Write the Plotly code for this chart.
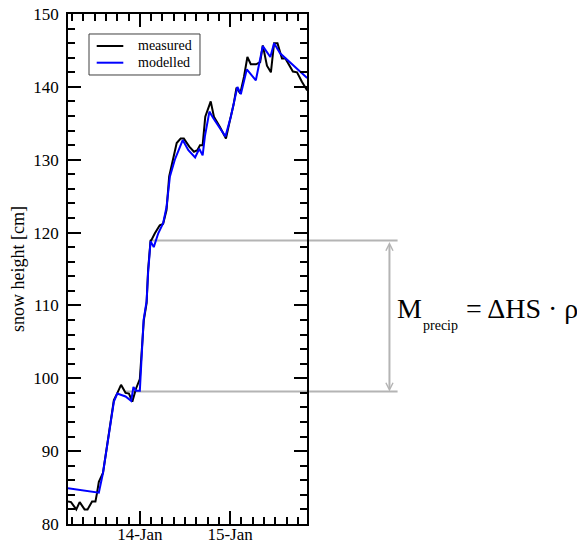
import plotly.graph_objects as go

# ---- data ----
measured_time = [
    "2014-01-13 04:54", "2014-01-13 05:42", "2014-01-13 07:06", "2014-01-13 08:00",
    "2014-01-13 09:18", "2014-01-13 10:06", "2014-01-13 11:18", "2014-01-13 12:12",
    "2014-01-13 12:36", "2014-01-13 13:06", "2014-01-13 14:12", "2014-01-13 15:06",
    "2014-01-13 16:12", "2014-01-13 17:06", "2014-01-13 17:57", "2014-01-13 19:00",
    "2014-01-13 20:12", "2014-01-13 21:06", "2014-01-13 22:00", "2014-01-13 23:00",
    "2014-01-14 00:00", "2014-01-14 00:27", "2014-01-14 01:04", "2014-01-14 01:48",
    "2014-01-14 02:12", "2014-01-14 02:51", "2014-01-14 03:06", "2014-01-14 04:00",
    "2014-01-14 04:54", "2014-01-14 05:18", "2014-01-14 06:12", "2014-01-14 07:06",
    "2014-01-14 07:48", "2014-01-14 08:54", "2014-01-14 09:48", "2014-01-14 10:51",
    "2014-01-14 11:42", "2014-01-14 13:09", "2014-01-14 14:24", "2014-01-14 15:18",
    "2014-01-14 16:00", "2014-01-14 16:42", "2014-01-14 17:24", "2014-01-14 18:51",
    "2014-01-14 19:42", "2014-01-14 21:18", "2014-01-14 22:54", "2014-01-15 00:00",
    "2014-01-15 00:54", "2014-01-15 01:42", "2014-01-15 02:42", "2014-01-15 03:42",
    "2014-01-15 04:36", "2014-01-15 05:30", "2014-01-15 06:54", "2014-01-15 08:00",
    "2014-01-15 08:42", "2014-01-15 09:48", "2014-01-15 10:51", "2014-01-15 11:42",
    "2014-01-15 12:36", "2014-01-15 13:48", "2014-01-15 14:42", "2014-01-15 16:42",
    "2014-01-15 17:48", "2014-01-15 19:06", "2014-01-15 20:30",
]
measured_hs = [
    83.1, 83.0, 82.0, 83.0, 82.0, 82.0, 83.1, 83.1,
    84.2, 85.8, 87.0, 90.2, 93.8, 97.0, 97.9, 99.1,
    98.0, 97.9, 96.8, 98.6, 99.9, 103.4, 108.0, 110.3,
    114.9, 118.9, 119.0, 119.9, 120.8, 121.0, 121.2, 123.1,
    127.7, 130.4, 132.3, 132.9, 132.9, 131.8, 131.1, 131.3,
    132.0, 132.0, 135.9, 138.0, 135.9, 134.5, 132.9, 135.5,
    137.5, 139.9, 139.1, 141.4, 144.1, 143.1, 143.1, 143.4,
    145.7, 142.9, 142.0, 146.0, 146.0, 143.9, 143.9, 142.1,
    142.0, 140.7, 139.5,
]

modelled_time = [
    "2014-01-13 04:54", "2014-01-13 13:06", "2014-01-13 14:12", "2014-01-13 15:06",
    "2014-01-13 16:12", "2014-01-13 17:06", "2014-01-13 18:00", "2014-01-13 20:12",
    "2014-01-13 21:42", "2014-01-13 22:18", "2014-01-13 23:00", "2014-01-14 00:00",
    "2014-01-14 01:00", "2014-01-14 01:48", "2014-01-14 02:12", "2014-01-14 02:51",
    "2014-01-14 03:42", "2014-01-14 04:54", "2014-01-14 06:12", "2014-01-14 07:06",
    "2014-01-14 08:00", "2014-01-14 09:18", "2014-01-14 10:42", "2014-01-14 11:24",
    "2014-01-14 12:54", "2014-01-14 14:42", "2014-01-14 15:48", "2014-01-14 16:42",
    "2014-01-14 17:18", "2014-01-14 18:30", "2014-01-14 19:33", "2014-01-14 21:09",
    "2014-01-14 22:45", "2014-01-15 00:12", "2014-01-15 01:18", "2014-01-15 01:57",
    "2014-01-15 02:51", "2014-01-15 04:27", "2014-01-15 06:51", "2014-01-15 08:42",
    "2014-01-15 10:42", "2014-01-15 11:42", "2014-01-15 13:18", "2014-01-15 20:30",
]
modelled_hs = [
    84.9, 84.3, 87.0, 90.2, 93.8, 96.8, 97.9, 97.5,
    96.9, 98.8, 98.3, 98.3, 108.0, 110.6, 114.5, 118.8,
    118.0, 119.9, 121.3, 123.5, 127.7, 130.0, 131.8, 132.7,
    131.3, 130.3, 131.5, 130.6, 133.2, 136.6, 135.7, 134.5,
    133.2, 135.9, 138.4, 140.0, 139.0, 142.4, 140.9, 145.6,
    144.1, 146.0, 144.6, 141.2,
]

series_names = ["measured", "modelled"]
series_colors = ["black", "#0000ff"]

# precipitation bracket (start time, snow height)
bracket_top = ("2014-01-14 03:06", 118.9)
bracket_bottom = ("2014-01-13 20:12", 98.2)

x_range = ["2014-01-13 04:54", "2014-01-15 20:27"]
y_range = [80, 150]

FONT = "Liberation Serif, Times New Roman, serif"
GRAY = "#b4b4b4"

fig = go.Figure()
for t, v, name, col in ((measured_time, measured_hs, series_names[0], series_colors[0]),
                        (modelled_time, modelled_hs, series_names[1], series_colors[1])):
    fig.add_trace(go.Scatter(x=t, y=v, mode="lines", name=name,
                             line=dict(color=col, width=2), showlegend=False))

axis_common = dict(
    showline=True, linecolor="black", linewidth=1.5, mirror="allticks",
    ticks="inside", ticklen=13, tickwidth=1.5, tickcolor="black",
    showgrid=False, zeroline=False,
)

fig.update_xaxes(
    type="date", range=x_range, tickmode="linear", tick0="2014-01-14",
    dtick=86400000, tickformat="%d-%b", ticklabelstandoff=-6,
    tickfont=dict(family=FONT, size=17, color="black"),
    minor=dict(dtick=10800000, ticks="inside", ticklen=7, tickwidth=1.5,
               tickcolor="black", showgrid=False),
    **axis_common,
)
fig.update_yaxes(
    range=y_range, tickmode="linear", tick0=80, dtick=10, ticklabelstandoff=4,
    tickfont=dict(family=FONT, size=17, color="black"),
    minor=dict(dtick=2, ticks="inside", ticklen=7, tickwidth=1.5,
               tickcolor="black", showgrid=False),
    title=dict(text="snow height [cm]", font=dict(family=FONT, size=18, color="black"),
               standoff=4),
    **axis_common,
)

# gray horizontal lines (inside plot in data coords, continued outside in paper coords)
shapes = []
for t0, yv in (bracket_top, bracket_bottom):
    shapes.append(dict(type="line", xref="x", yref="y", x0=t0, x1=x_range[1],
                       y0=yv, y1=yv, line=dict(color=GRAY, width=2), layer="below"))
    shapes.append(dict(type="line", xref="paper", yref="y", x0=1.0, x1=1.379,
                       y0=yv, y1=yv, line=dict(color=GRAY, width=2), layer="below"))

# legend box drawn in paper coordinates
shapes.append(dict(type="rect", xref="paper", yref="paper", x0=0.0879, x1=0.5523,
                   y0=0.8804, y1=0.9608, line=dict(color="#404040", width=1),
                   fillcolor="white", layer="above"))
legend_rows_y = [0.9373, 0.9045]
for name, col, yy in zip(series_names, series_colors, legend_rows_y):
    shapes.append(dict(type="line", xref="paper", yref="paper", x0=0.1201, x1=0.2314,
                       y0=yy, y1=yy, line=dict(color=col, width=2), layer="above"))

annotations = [
    dict(xref="paper", yref="y", x=1.345, y=bracket_bottom[1],
         axref="pixel", ayref="y", ax=0, ay=bracket_top[1],
         text="", showarrow=True, arrowside="end+start",
         arrowhead=5, startarrowhead=5, arrowsize=0.7, startarrowsize=0.7,
         arrowwidth=2, arrowcolor=GRAY, standoff=0, startstandoff=0),
    dict(xref="paper", yref="paper", x=1.367, y=0.4218, xanchor="left", yanchor="middle",
         text="M", showarrow=False, font=dict(family=FONT, size=28, color="black")),
    dict(xref="paper", yref="paper", x=1.4757, y=0.3896, xanchor="left", yanchor="middle",
         text="precip", showarrow=False, font=dict(family=FONT, size=14, color="black")),
    dict(xref="paper", yref="paper", x=1.657, y=0.4218, xanchor="left", yanchor="middle",
         text="= \u0394HS \u00b7 \u03c1", showarrow=False,
         font=dict(family=FONT, size=28, color="black")),
]
for name, yy in zip(series_names, legend_rows_y):
    annotations.append(dict(xref="paper", yref="paper", x=0.2845, y=yy,
                            xanchor="left", yanchor="middle", text=name, showarrow=False,
                            font=dict(family=FONT, size=14, color="black")))

fig.update_layout(
    width=577, height=546,
    margin=dict(l=68, r=270, t=14, b=22, autoexpand=False),
    paper_bgcolor="white", plot_bgcolor="white",
    font=dict(family=FONT, color="black"),
    showlegend=False,
    shapes=shapes, annotations=annotations,
)

fig.write_html("out.html")
